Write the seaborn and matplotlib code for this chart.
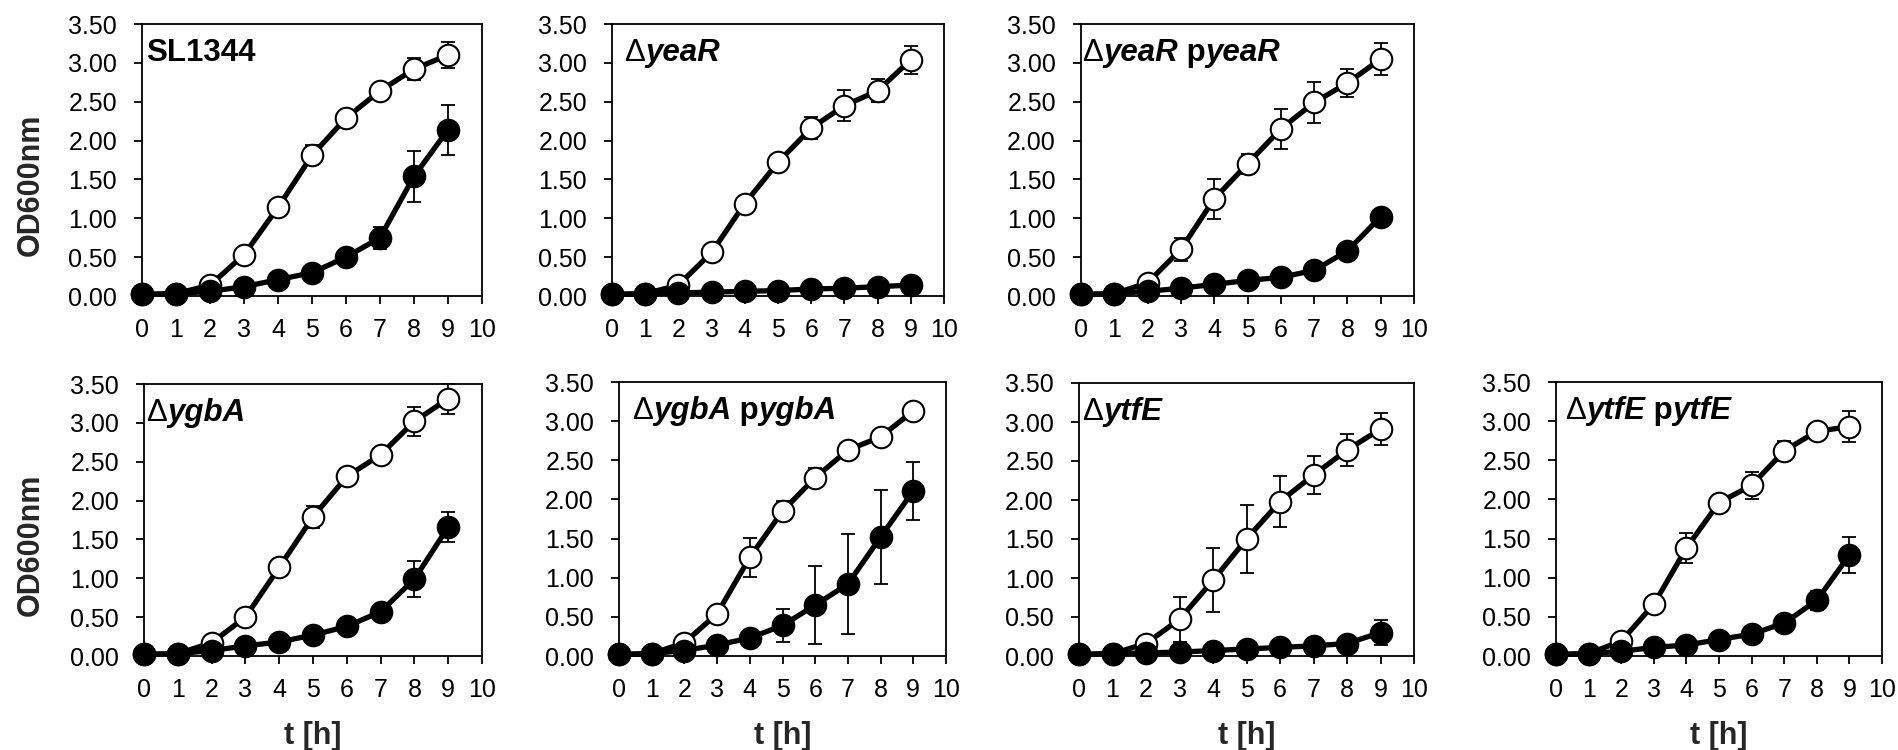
import numpy as np
import pandas as pd
import matplotlib
matplotlib.use("Agg")
import matplotlib.pyplot as plt
import seaborn as sns
from matplotlib.offsetbox import TextArea, HPacker, AnchoredOffsetbox

# ---------------- data ----------------
hours = [0, 1, 2, 3, 4, 5, 6, 7, 8, 9]

# SL1344
sl_open = [0.02, 0.03, 0.14, 0.53, 1.14, 1.81, 2.29, 2.64, 2.92, 3.10]
sl_open_err = [0, 0, 0, 0, 0, 0.13, 0, 0.08, 0.14, 0.17]
sl_fill = [0.02, 0.03, 0.06, 0.12, 0.21, 0.30, 0.50, 0.75, 1.54, 2.14]
sl_fill_err = [0, 0, 0, 0, 0, 0, 0.08, 0.14, 0.33, 0.32]

# dyeaR
yeaR_open = [0.02, 0.03, 0.14, 0.56, 1.19, 1.72, 2.16, 2.45, 2.64, 3.04]
yeaR_open_err = [0, 0, 0, 0, 0, 0, 0.14, 0.20, 0.15, 0.18]
yeaR_fill = [0.02, 0.03, 0.04, 0.05, 0.06, 0.07, 0.09, 0.10, 0.12, 0.14]
yeaR_fill_err = [0, 0, 0, 0, 0, 0, 0, 0, 0, 0]

# dyeaR pyeaR
yeaRc_open = [0.02, 0.03, 0.17, 0.60, 1.25, 1.70, 2.15, 2.49, 2.74, 3.05]
yeaRc_open_err = [0, 0, 0, 0.15, 0.26, 0.13, 0.26, 0.26, 0.18, 0.20]
yeaRc_fill = [0.02, 0.03, 0.06, 0.10, 0.15, 0.20, 0.24, 0.33, 0.58, 1.02]
yeaRc_fill_err = [0, 0, 0, 0, 0, 0, 0, 0, 0, 0]

# dygbA
ygbA_open = [0.02, 0.03, 0.17, 0.50, 1.14, 1.79, 2.31, 2.59, 3.02, 3.31]
ygbA_open_err = [0, 0, 0, 0, 0, 0.14, 0, 0, 0.19, 0.19]
ygbA_fill = [0.02, 0.03, 0.07, 0.13, 0.18, 0.27, 0.38, 0.57, 0.99, 1.66]
ygbA_fill_err = [0, 0, 0, 0, 0, 0, 0, 0, 0.23, 0.19]

# dygbA pygbA
ygbAc_open = [0.02, 0.03, 0.17, 0.54, 1.26, 1.85, 2.28, 2.63, 2.80, 3.13]
ygbAc_open_err = [0, 0, 0, 0, 0.25, 0.13, 0.12, 0.10, 0, 0]
ygbAc_fill = [0.02, 0.03, 0.07, 0.14, 0.23, 0.39, 0.65, 0.92, 1.52, 2.11]
ygbAc_fill_err = [0, 0, 0, 0, 0, 0.21, 0.50, 0.64, 0.60, 0.37]

# dytfE
ytfE_open = [0.02, 0.03, 0.16, 0.47, 0.97, 1.50, 1.98, 2.32, 2.64, 2.91]
ytfE_open_err = [0, 0, 0, 0.29, 0.41, 0.43, 0.33, 0.24, 0.21, 0.20]
ytfE_fill = [0.02, 0.03, 0.04, 0.05, 0.07, 0.09, 0.11, 0.13, 0.16, 0.30]
ytfE_fill_err = [0, 0, 0, 0, 0, 0, 0, 0, 0, 0.16]

# dytfE pytfE
ytfEc_open = [0.02, 0.03, 0.19, 0.66, 1.38, 1.96, 2.18, 2.62, 2.87, 2.93]
ytfEc_open_err = [0, 0, 0, 0, 0.19, 0, 0.17, 0.13, 0, 0.20]
ytfEc_fill = [0.02, 0.03, 0.06, 0.11, 0.14, 0.21, 0.28, 0.42, 0.71, 1.29]
ytfEc_fill_err = [0, 0, 0, 0, 0, 0, 0, 0, 0.12, 0.23]

y_ticks = [0.0, 0.5, 1.0, 1.5, 2.0, 2.5, 3.0, 3.5]
x_ticks = [0, 1, 2, 3, 4, 5, 6, 7, 8, 9, 10]

# panel titles: (text, style) pieces
titles = [
    [("SL1344", "b")],
    [("\u0394", "n"), ("yeaR", "bi")],
    [("\u0394", "n"), ("yeaR", "bi"), (" p", "b"), ("yeaR", "bi")],
    [("\u0394", "n"), ("ygbA", "bi")],
    [("\u0394", "n"), ("ygbA", "bi"), (" p", "b"), ("ygbA", "bi")],
    [("\u0394", "n"), ("ytfE", "bi")],
    [("\u0394", "n"), ("ytfE", "bi"), (" p", "b"), ("ytfE", "bi")],
]

panels = [
    (sl_open, sl_open_err, sl_fill, sl_fill_err),
    (yeaR_open, yeaR_open_err, yeaR_fill, yeaR_fill_err),
    (yeaRc_open, yeaRc_open_err, yeaRc_fill, yeaRc_fill_err),
    (ygbA_open, ygbA_open_err, ygbA_fill, ygbA_fill_err),
    (ygbAc_open, ygbAc_open_err, ygbAc_fill, ygbAc_fill_err),
    (ytfE_open, ytfE_open_err, ytfE_fill, ytfE_fill_err),
    (ytfEc_open, ytfEc_open_err, ytfEc_fill, ytfEc_fill_err),
]

# ---------------- layout (pixel boxes: left, top, right, bottom) ----------------
W, H = 1898, 750
boxes = [
    (142, 24, 482, 296),
    (612, 24, 944, 296),
    (1081, 24, 1414, 296),
    (144, 384, 482, 656),
    (619, 382, 946, 656),
    (1079, 383, 1414, 656),
    (1556, 382, 1882, 656),
]
title_dx = [4, 12, 1, 2, 13, 3, 9]
show_ylabel = [True, False, False, True, False, False, False]
show_xlabel = [False, False, False, True, True, True, True]

sns.set_theme(style="ticks")
plt.rcParams["font.family"] = ["Liberation Sans", "DejaVu Sans"]
plt.rcParams["axes.linewidth"] = 1.3

fig = plt.figure(figsize=(W / 100, H / 100), dpi=100)

styles = {
    "n": dict(fontweight="normal", fontstyle="normal"),
    "b": dict(fontweight="bold", fontstyle="normal"),
    "bi": dict(fontweight="bold", fontstyle="italic"),
}

for i, (box, data, title) in enumerate(zip(boxes, panels, titles)):
    l, t, r, b = box
    ax = fig.add_axes([l / W, 1 - b / H, (r - l) / W, (b - t) / H])
    o_mean, o_err, f_mean, f_err = data

    ax.errorbar(hours, o_mean, yerr=o_err, fmt="none", ecolor="black",
                elinewidth=1.3, capsize=5, capthick=1.3, zorder=2, clip_on=False)
    ax.errorbar(hours, f_mean, yerr=f_err, fmt="none", ecolor="black",
                elinewidth=1.3, capsize=5, capthick=1.3, zorder=2, clip_on=False)

    df_o = pd.DataFrame({"t": hours, "od": o_mean})
    df_f = pd.DataFrame({"t": hours, "od": f_mean})
    sns.lineplot(data=df_o, x="t", y="od", ax=ax, errorbar=None, color="black",
                 lw=3.8, marker="o", markersize=15.5, markerfacecolor="white",
                 markeredgecolor="black", markeredgewidth=1.5, zorder=3, clip_on=False)
    sns.lineplot(data=df_f, x="t", y="od", ax=ax, errorbar=None, color="black",
                 lw=3.8, marker="o", markersize=15.5, markerfacecolor="black",
                 markeredgecolor="black", markeredgewidth=1.5, zorder=4, clip_on=False)

    ax.set_xlim(0, 10)
    ax.set_ylim(0, 3.5)
    ax.set_xticks(x_ticks)
    ax.set_yticks(y_ticks)
    ax.set_yticklabels([f"{v:.2f}" for v in y_ticks])
    ax.tick_params(axis="both", direction="out", length=6, width=1.3,
                   labelsize=18, colors="black")
    ax.tick_params(axis="x", pad=10)
    ax.tick_params(axis="y", pad=12)
    for s in ax.spines.values():
        s.set_visible(True)
        s.set_color("black")
        s.set_linewidth(1.3)

    if show_ylabel[i]:
        ax.set_ylabel("OD600nm", fontsize=22, fontweight="bold")
        ax.yaxis.set_label_coords(-(l - 46) / (r - l), 0.41)
    else:
        ax.set_ylabel("")
    if show_xlabel[i]:
        ax.set_xlabel("t [h]", fontsize=22, fontweight="bold")
        ax.xaxis.set_label_coords(0.5, -65 / (b - t))
    else:
        ax.set_xlabel("")

    pieces = [TextArea(txt, textprops=dict(fontsize=22.5, color="black", **styles[st]))
              for txt, st in title]
    packer = HPacker(children=pieces, align="baseline", pad=0, sep=0)
    anchored = AnchoredOffsetbox(loc="upper left", child=packer, pad=0, borderpad=0,
                                 frameon=False,
                                 bbox_to_anchor=(title_dx[i] / (r - l), 1 - 14 / (b - t)),
                                 bbox_transform=ax.transAxes)
    ax.add_artist(anchored)

fig.savefig("out.png", dpi=100)
